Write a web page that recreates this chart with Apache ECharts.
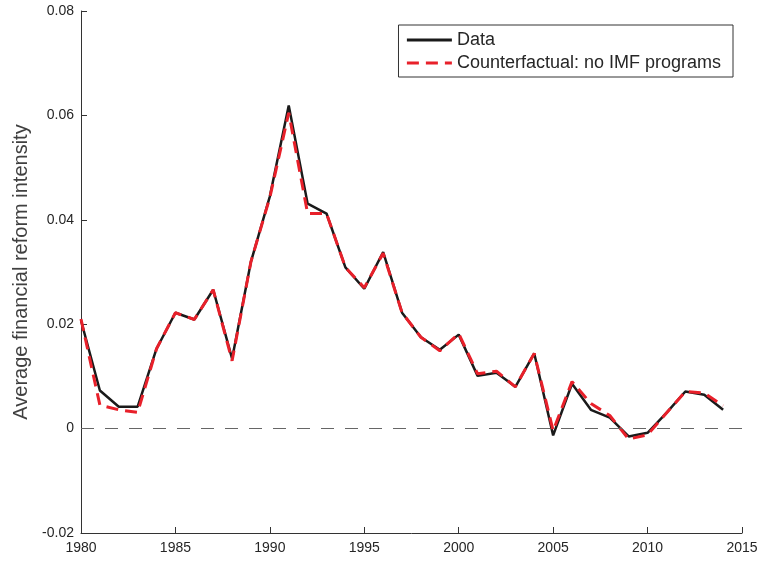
<!DOCTYPE html>
<html><head><meta charset="utf-8">
<script src="https://cdn.jsdelivr.net/npm/echarts@6/dist/echarts.min.js"></script>
<style>html,body{margin:0;padding:0;background:#fff}#c{width:759px;height:561px}</style>
</head><body><div id="c"></div>
<script>
const years = [1980,1981,1982,1983,1984,1985,1986,1987,1988,1989,1990,1991,1992,1993,1994,1995,1996,1997,1998,1999,2000,2001,2002,2003,2004,2005,2006,2007,2008,2009,2010,2011,2012,2013,2014];
const dataSeries = [0.0207,0.0073,0.0042,0.0042,0.0153,0.0222,0.0209,0.0266,0.0134,0.0320,0.0445,0.0619,0.0431,0.0412,0.0309,0.0268,0.0338,0.0222,0.0175,0.0151,0.0180,0.0101,0.0107,0.0080,0.0144,-0.0013,0.0086,0.0036,0.0021,-0.0015,-0.0008,0.0030,0.0071,0.0065,0.0036];
const counterfactual = [0.0210,0.0045,0.0036,0.0031,0.0153,0.0222,0.0209,0.0266,0.0130,0.0320,0.0443,0.0605,0.0412,0.0412,0.0309,0.0270,0.0336,0.0222,0.0175,0.0149,0.0182,0.0105,0.0110,0.0080,0.0144,-0.0004,0.0090,0.0048,0.0025,-0.0020,-0.0012,0.0030,0.0071,0.0068,0.0044];
const xTicks = [1980,1985,1990,1995,2000,2005,2010,2015];
const yTicks = [-0.02,0,0.02,0.04,0.06,0.08];

const pair = arr => years.map((y,i)=>[y,arr[i]]);
const chart = echarts.init(document.getElementById('c'));
const axisColor = '#333333';
const font = 'Liberation Sans, Arial, sans-serif';
chart.setOption({
  animation:false,
  grid:{left:81,right:17,top:11,bottom:28,containLabel:false,outerBoundsMode:'none'},
  xAxis:{type:'value',min:xTicks[0],max:xTicks[xTicks.length-1],interval:5,
    axisLine:{show:true,onZero:false,lineStyle:{color:axisColor,width:1}},
    axisTick:{show:true,inside:true,length:6,lineStyle:{color:axisColor}},
    axisLabel:{color:'#262626',fontSize:14,fontFamily:font,margin:8,formatter:v=>String(v)},
    splitLine:{show:false}},
  yAxis:{type:'value',min:yTicks[0],max:yTicks[yTicks.length-1],interval:0.02,
    axisLine:{show:true,onZero:false,lineStyle:{color:axisColor,width:1}},
    axisTick:{show:true,inside:true,length:6,lineStyle:{color:axisColor}},
    axisLabel:{color:'#262626',fontSize:14,fontFamily:font,margin:7,
      formatter:v=>Math.abs(v)<1e-9?'0':v.toFixed(2)},
    splitLine:{show:false},
    name:'Average financial reform intensity',nameLocation:'middle',nameGap:50,
    nameTextStyle:{color:'#404040',fontSize:20,fontFamily:font}},
  legend:{orient:'vertical',right:26,top:25,itemWidth:45,itemHeight:14,itemGap:5,
    borderColor:axisColor,borderWidth:1,borderRadius:0,padding:[6,12,5,7],
    itemStyle:{opacity:0},lineStyle:{width:2.8},
    textStyle:{color:'#262626',fontSize:18,fontFamily:font},
    data:['Data','Counterfactual: no IMF programs']},
  series:[
    {name:'Data',type:'line',data:pair(dataSeries),symbol:'none',
     lineStyle:{color:'#1a1a1a',width:2.5},itemStyle:{color:'#1a1a1a'},
     markLine:{silent:true,symbol:'none',label:{show:false},
       lineStyle:{color:'#666',type:[13,11],width:1},data:[{yAxis:0}]}},
    {name:'Counterfactual: no IMF programs',type:'line',data:pair(counterfactual),symbol:'none',
     lineStyle:{color:'#e8202a',width:3,type:[12,7]},itemStyle:{color:'#e8202a'}}
  ]
});
</script></body></html>
